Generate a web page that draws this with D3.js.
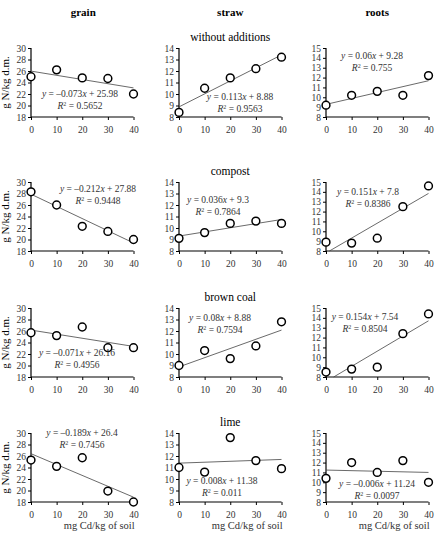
<!DOCTYPE html>
<html>
<head>
<meta charset="utf-8">
<script src="https://cdn.jsdelivr.net/npm/d3@7"></script>
<style>
  html, body { margin: 0; padding: 0; background: #fff; }
  svg text { font-family: "Liberation Serif", "Times New Roman", "DejaVu Serif", serif; }
</style>
</head>
<body>
<svg id="chart" width="437" height="545"></svg>
<script>
// ---- data ----
const doses = [0, 10, 20, 30, 40];
const columns = ['grain', 'straw', 'roots'];
const treatments = ['without additions', 'compost', 'brown coal', 'lime'];

// measured N content, one row per treatment
const grainValues = [
    [25.0, 26.2, 24.8, 24.7, 22.0],
    [28.3, 26.0, 22.3, 21.4, 20.0],
    [25.7, 25.2, 26.7, 23.1, 23.1],
    [25.3, 24.2, 25.7, 19.9, 18.0],
];
const strawValues = [
    [8.4, 10.5, 11.4, 12.2, 13.2],
    [9.1, 9.6, 10.4, 10.6, 10.4],
    [9.0, 10.3, 9.6, 10.7, 12.8],
    [11.0, 10.6, 13.6, 11.6, 10.9],
];
const rootsValues = [
    [9.2, 10.2, 10.6, 10.2, 12.2],
    [8.9, 8.8, 9.3, 12.5, 14.6],
    [8.5, 8.8, 9.0, 12.4, 14.4],
    [10.4, 12.0, 11.0, 12.2, 10.0],
];

// regression lines: [slope, intercept, R2 label]
const grainFits = [[-0.073, 25.98, '0.5652'], [-0.212, 27.88, '0.9448'], [-0.071, 26.16, '0.4956'], [-0.189, 26.4, '0.7456']];
const strawFits = [[0.113, 8.88, '0.9563'], [0.036, 9.3, '0.7864'], [0.08, 8.88, '0.7594'], [0.008, 11.38, '0.011']];
const rootsFits = [[0.06, 9.28, '0.755'], [0.151, 7.8, '0.8386'], [0.154, 7.54, '0.8504'], [-0.006, 11.24, '0.0097']];

const yDomains = [[18, 30], [8, 14], [8, 15]];
const yTicks = [d3.range(18, 31, 2), d3.range(8, 15, 1), d3.range(8, 16, 1)];

// ---- layout ----
const colX0 = [31, 179, 326];
const plotW = 102.5;
const rowTop = [48, 182, 308, 433];
const plotH = 69;
const serif = '"Liberation Serif", "Times New Roman", serif';

// equation label centres, pixel offsets from panel left/top [col][row]
const eqPos = [
    [[49, 46], [67, 7], [46, 45], [51, 0]],
    [[61, 49], [39, 18], [41, 10], [43, 48]],
    [[46, 8], [42, 10], [39, 9], [51, 51]],
];

const values = [grainValues, strawValues, rootsValues];
const fits = [grainFits, strawFits, rootsFits];

const svg = d3.select('#chart').attr('font-family', serif);

// column headers
columns.forEach((c, ci) => {
    svg.append('text')
        .attr('x', colX0[ci] + plotW / 2 + (ci === 0 ? 1 : 0))
        .attr('y', 16)
        .attr('text-anchor', 'middle')
        .attr('font-family', serif)
        .style('font-weight', 'bold')
        .style('font-size', '11px')
        .text(c);
});

function fmt(v) {
    return String(v).replace('-', '\u2013');
}

treatments.forEach((t, ri) => {
    // treatment title over the middle column
    svg.append('text')
        .attr('x', colX0[1] + plotW / 2)
        .attr('y', rowTop[ri] - 7)
        .attr('text-anchor', 'middle')
        .attr('font-family', serif)
        .style('font-size', '11.5px')
        .text(t);

    columns.forEach((c, ci) => {
        const x = d3.scaleLinear().domain([0, 40]).range([0, plotW]);
        const y = d3.scaleLinear().domain(yDomains[ci]).range([plotH, 0]);
        const g = svg.append('g')
            .attr('transform', `translate(${colX0[ci]},${rowTop[ri]})`);

        const xAxis = g.append('g')
            .attr('transform', `translate(0,${plotH})`)
            .call(d3.axisBottom(x).tickValues(doses).tickSize(3).tickPadding(6).tickFormat(d3.format('d')));
        const yAxis = g.append('g')
            .call(d3.axisLeft(y).tickValues(yTicks[ci]).tickSize(3).tickPadding(2).tickFormat(d3.format('d')));
        xAxis.select('.domain').attr('d', `M0,0H${plotW}`);
        yAxis.select('.domain').attr('d', `M0,0V${plotH}`);
        [xAxis, yAxis].forEach(a => a.attr('font-family', serif).attr('font-size', 9.5));
        g.selectAll('.domain').attr('stroke', '#000').attr('stroke-width', 1.2);
        g.selectAll('.tick line').attr('stroke', '#000');
        g.selectAll('.tick text').attr('fill', '#333');

        // regression line, clipped to y domain
        const [m, b, r2] = fits[ci][ri];
        const [ylo] = yDomains[ci];
        let xs = 0, xe = 40;
        if (m * xs + b < ylo) xs = (ylo - b) / m;
        if (m * xe + b < ylo) xe = (ylo - b) / m;
        g.append('line')
            .attr('x1', x(xs)).attr('y1', y(m * xs + b))
            .attr('x2', x(xe)).attr('y2', y(m * xe + b))
            .attr('stroke', '#444').attr('stroke-width', 0.8);

        // points
        g.selectAll('circle')
            .data(doses.map((d, i) => [d, values[ci][ri][i]]))
            .join('circle')
            .attr('cx', d => x(d[0]))
            .attr('cy', d => y(d[1]))
            .attr('r', 3.9)
            .attr('fill', '#fff')
            .attr('stroke', '#000')
            .attr('stroke-width', 1.5);

        // equation text
        const [ex, ey] = eqPos[ci][ri];
        const eq = g.append('text')
            .attr('x', ex).attr('y', ey + 3)
            .attr('text-anchor', 'middle')
            .attr('font-family', serif)
            .style('font-size', '9.5px')
            .attr('fill', '#333');
        eq.append('tspan').style('font-style', 'italic').text('y');
        eq.append('tspan').text(` = ${fmt(m)}`);
        eq.append('tspan').style('font-style', 'italic').text('x');
        eq.append('tspan').text(` + ${b}`);

        const rt = g.append('text')
            .attr('x', ex).attr('y', ey + 15)
            .attr('text-anchor', 'middle')
            .attr('font-family', serif)
            .style('font-size', '9.5px')
            .attr('fill', '#333');
        rt.append('tspan').style('font-style', 'italic').text('R');
        rt.append('tspan').attr('dy', -3).style('font-size', '6px').text('2');
        rt.append('tspan').attr('dy', 3).text(` = ${r2}`);

        if (ci === 0) {
            g.append('text')
                .attr('transform', `translate(-22,${plotH / 2}) rotate(-90)`)
                .attr('text-anchor', 'middle')
                .attr('font-family', serif)
                .style('font-size', '11px')
                .text('g N/kg d.m.');
        }
        if (ri === treatments.length - 1) {
            g.append('text')
                .attr('x', plotW / 2 + 17)
                .attr('y', plotH + 27)
                .attr('text-anchor', 'middle')
                .attr('font-family', serif)
                .attr('fill', '#333')
                .style('font-size', '10.5px')
                .text('mg Cd/kg of soil');
        }
    });
});
</script>
</body>
</html>
